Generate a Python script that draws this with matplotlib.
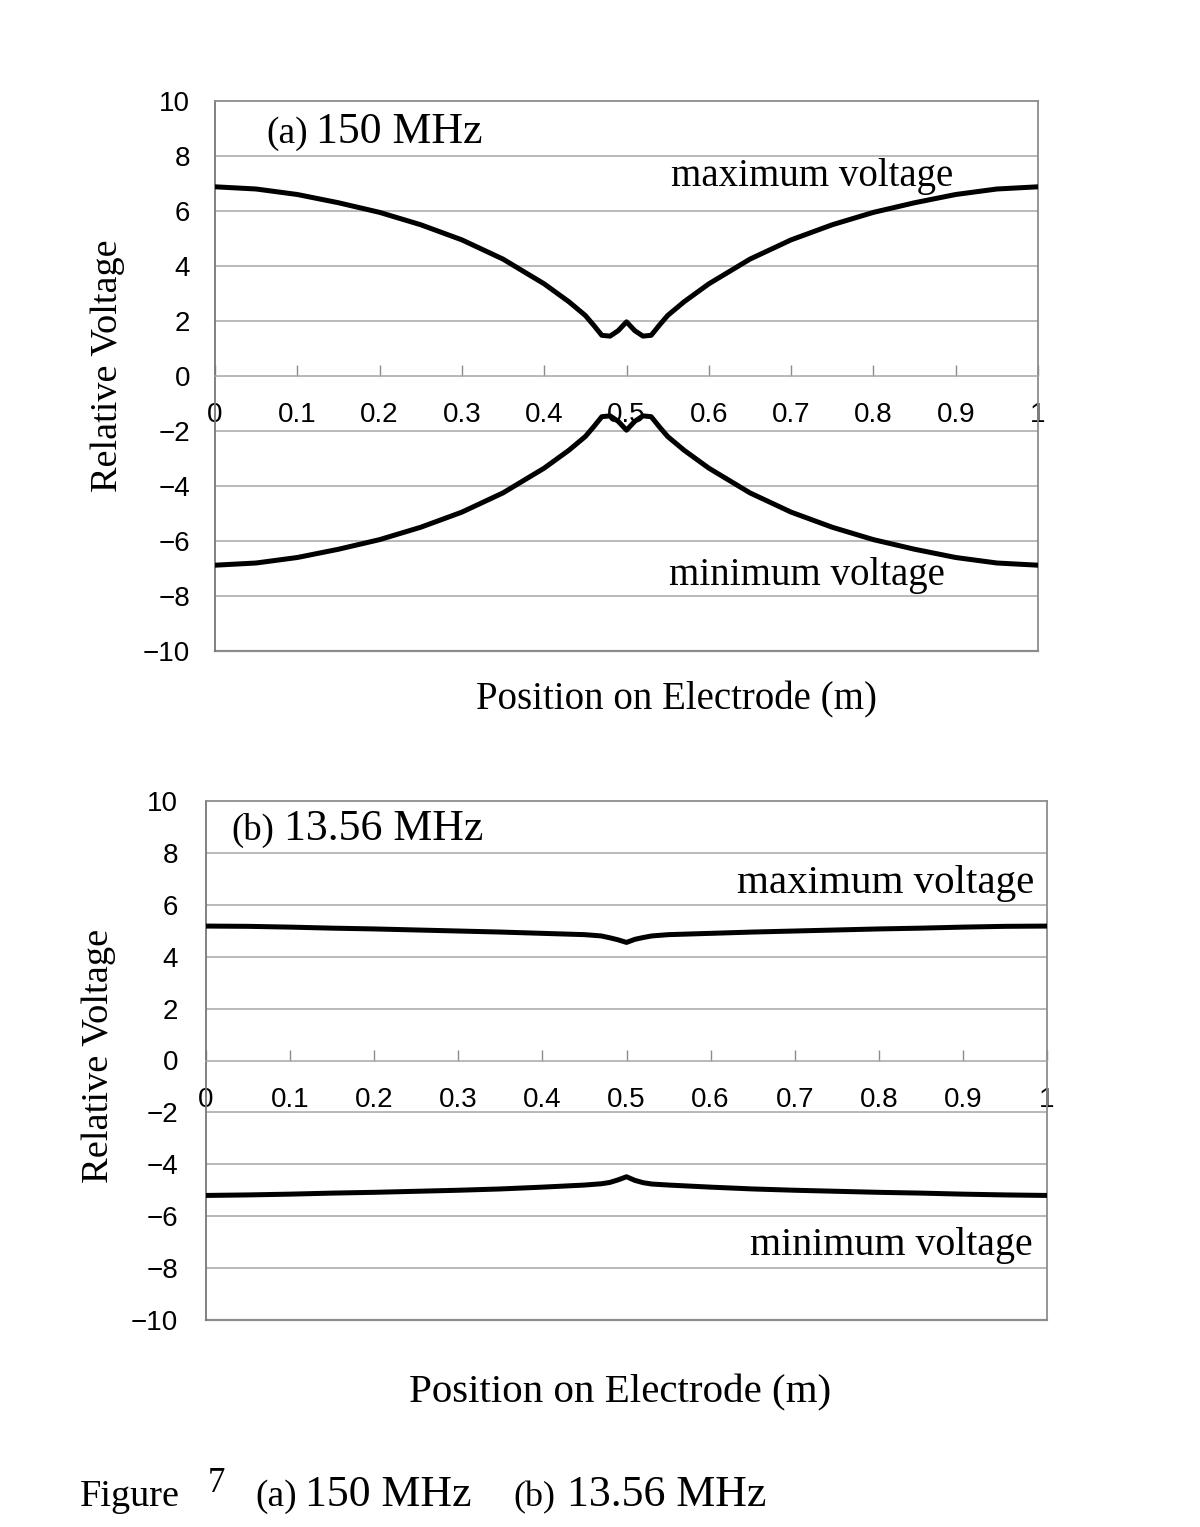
import matplotlib
matplotlib.use("Agg")
import matplotlib.pyplot as plt
from matplotlib.ticker import FormatStrFormatter, FuncFormatter

# ---------------- data ----------------
pos_a = [0.0, 0.05, 0.1, 0.15, 0.2, 0.25, 0.3, 0.35, 0.4, 0.43, 0.45, 0.46, 0.47,
         0.48, 0.49, 0.5, 0.51, 0.52, 0.53, 0.54, 0.55, 0.57, 0.6, 0.65, 0.7, 0.75,
         0.8, 0.85, 0.9, 0.95, 1.0]
max_a = [6.88, 6.8, 6.6, 6.3, 5.95, 5.5, 4.95, 4.25, 3.35, 2.7, 2.2, 1.85, 1.48,
         1.45, 1.65, 1.97, 1.65, 1.45, 1.48, 1.85, 2.2, 2.7, 3.35, 4.25, 4.95, 5.5,
         5.95, 6.3, 6.6, 6.8, 6.88]
min_a = [-6.88, -6.8, -6.6, -6.3, -5.95, -5.5, -4.95, -4.25, -3.35, -2.7, -2.2,
         -1.85, -1.48, -1.45, -1.65, -1.97, -1.65, -1.45, -1.48, -1.85, -2.2, -2.7,
         -3.35, -4.25, -4.95, -5.5, -5.95, -6.3, -6.6, -6.8, -6.88]

pos_b = [0.0, 0.05, 0.1, 0.15, 0.2, 0.25, 0.3, 0.35, 0.4, 0.45, 0.47, 0.48, 0.49,
         0.5, 0.51, 0.52, 0.53, 0.55, 0.6, 0.65, 0.7, 0.75, 0.8, 0.85, 0.9, 0.95, 1.0]
max_b = [5.18, 5.17, 5.14, 5.1, 5.07, 5.03, 4.99, 4.95, 4.9, 4.85, 4.8, 4.73, 4.65,
         4.55, 4.67, 4.74, 4.8, 4.85, 4.9, 4.95, 4.99, 5.03, 5.07, 5.1, 5.14, 5.17, 5.18]
min_b = [-5.2, -5.18, -5.15, -5.11, -5.08, -5.04, -5.0, -4.95, -4.88, -4.8, -4.75,
         -4.7, -4.6, -4.48, -4.62, -4.71, -4.76, -4.8, -4.88, -4.95, -5.0, -5.04,
         -5.08, -5.11, -5.15, -5.18, -5.2]

xticks = [0, 0.1, 0.2, 0.3, 0.4, 0.5, 0.6, 0.7, 0.8, 0.9, 1.0]
yticks = [-10, -8, -6, -4, -2, 0, 2, 4, 6, 8, 10]

# ---------------- figure ----------------
W, H = 1200, 1527
fig = plt.figure(figsize=(W / 100, H / 100), dpi=100)
SANS = ["Liberation Sans", "DejaVu Sans"]
SERIF = ["Liberation Serif", "DejaVu Serif"]
GRID = "#a6a6a6"
SPINE = "#8c8c8c"


def px_axes(l, t, r, b):
    return fig.add_axes([l / W, 1 - b / H, (r - l) / W, (b - t) / H])


def ftext(x, y, s, **kw):
    fig.text(x / W, 1 - y / H, s, **kw)


def ylab(v, _):
    return ("\u2212%d" % -v) if v < 0 else "%d" % v


def setup(ax, ypad):
    ax.set_xlim(0, 1)
    ax.set_ylim(-10, 10)
    ax.set_yticks(yticks)
    ax.yaxis.set_major_formatter(FuncFormatter(ylab))
    ax.tick_params(axis="y", length=0, pad=ypad, labelsize=20)
    for yv in yticks[1:-1]:
        if yv != 0:
            ax.axhline(yv, color=GRID, lw=1.1, zorder=1)
    for s in ax.spines.values():
        s.set_color(SPINE)
        s.set_linewidth(1.3)
    ax.spines["left"].set_color("#777777")
    # x axis crossing at y = 0
    ax.spines["bottom"].set_position(("data", 0))
    ax.spines["bottom"].set_color(GRID)
    ax.spines["bottom"].set_linewidth(1.1)
    ax.axhline(-10, color=SPINE, lw=1.6, zorder=2, clip_on=False)
    ax.set_xticks(xticks)
    ax.xaxis.set_major_formatter(FormatStrFormatter("%g"))
    ax.tick_params(axis="x", direction="in", length=8, width=1, color=SPINE,
                   pad=19, labelsize=20)
    for lab in ax.get_xticklabels() + ax.get_yticklabels():
        lab.set_fontfamily(SANS)


# panel (a)
axa = px_axes(215, 101, 1038, 651)
setup(axa, 18)
axa.plot(pos_a, max_a, color="black", lw=3.6, zorder=3, solid_joinstyle="round")
axa.plot(pos_a, min_a, color="black", lw=3.6, zorder=3, solid_joinstyle="round")

# panel (b)
axb = px_axes(206, 801, 1047, 1320)
setup(axb, 20)
axb.plot(pos_b, max_b, color="black", lw=3.6, zorder=3, solid_joinstyle="round")
axb.plot(pos_b, min_b, color="black", lw=3.6, zorder=3, solid_joinstyle="round")

# ---------------- texts ----------------
ser = dict(family=SERIF, color="black")
# panel a
ftext(266, 143, "(a)", fontsize=27, va="baseline", ha="left", **ser)
ftext(316, 143, "150 MHz", fontsize=31.5, va="baseline", ha="left", **ser)
ftext(671, 186, "maximum voltage", fontsize=28, va="baseline", ha="left", **ser)
ftext(669, 585, "minimum voltage", fontsize=28, va="baseline", ha="left", **ser)
ftext(676, 709, "Position on Electrode (m)", fontsize=28, va="baseline",
      ha="center", **ser)
ftext(108, 366, "Relative Voltage", fontsize=27.5, rotation=90, va="center",
      ha="center", **ser)

# panel b
ftext(231, 840, "(b)", fontsize=26.5, va="baseline", ha="left", **ser)
ftext(284, 840, "13.56 MHz", fontsize=31.5, va="baseline", ha="left", **ser)
ftext(737, 893, "maximum voltage", fontsize=29.5, va="baseline", ha="left", **ser)
ftext(750, 1255, "minimum voltage", fontsize=28.7, va="baseline", ha="left", **ser)
ftext(620, 1402, "Position on Electrode (m)", fontsize=29.5, va="baseline",
      ha="center", **ser)
ftext(99, 1056, "Relative Voltage", fontsize=27.7, rotation=90, va="center",
      ha="center", **ser)

# caption
ftext(80, 1506, "Figure", fontsize=27.5, va="baseline", ha="left", **ser)
ftext(208, 1492, "7", fontsize=25, va="baseline", ha="left", **ser)
ftext(255, 1506, "(a)", fontsize=27, va="baseline", ha="left", **ser)
ftext(305, 1506, "150 MHz", fontsize=31.5, va="baseline", ha="left", **ser)
ftext(513, 1506, "(b)", fontsize=26, va="baseline", ha="left", **ser)
ftext(567, 1506, "13.56 MHz", fontsize=31.5, va="baseline", ha="left", **ser)

fig.savefig("out.png", dpi=100, facecolor="white")
